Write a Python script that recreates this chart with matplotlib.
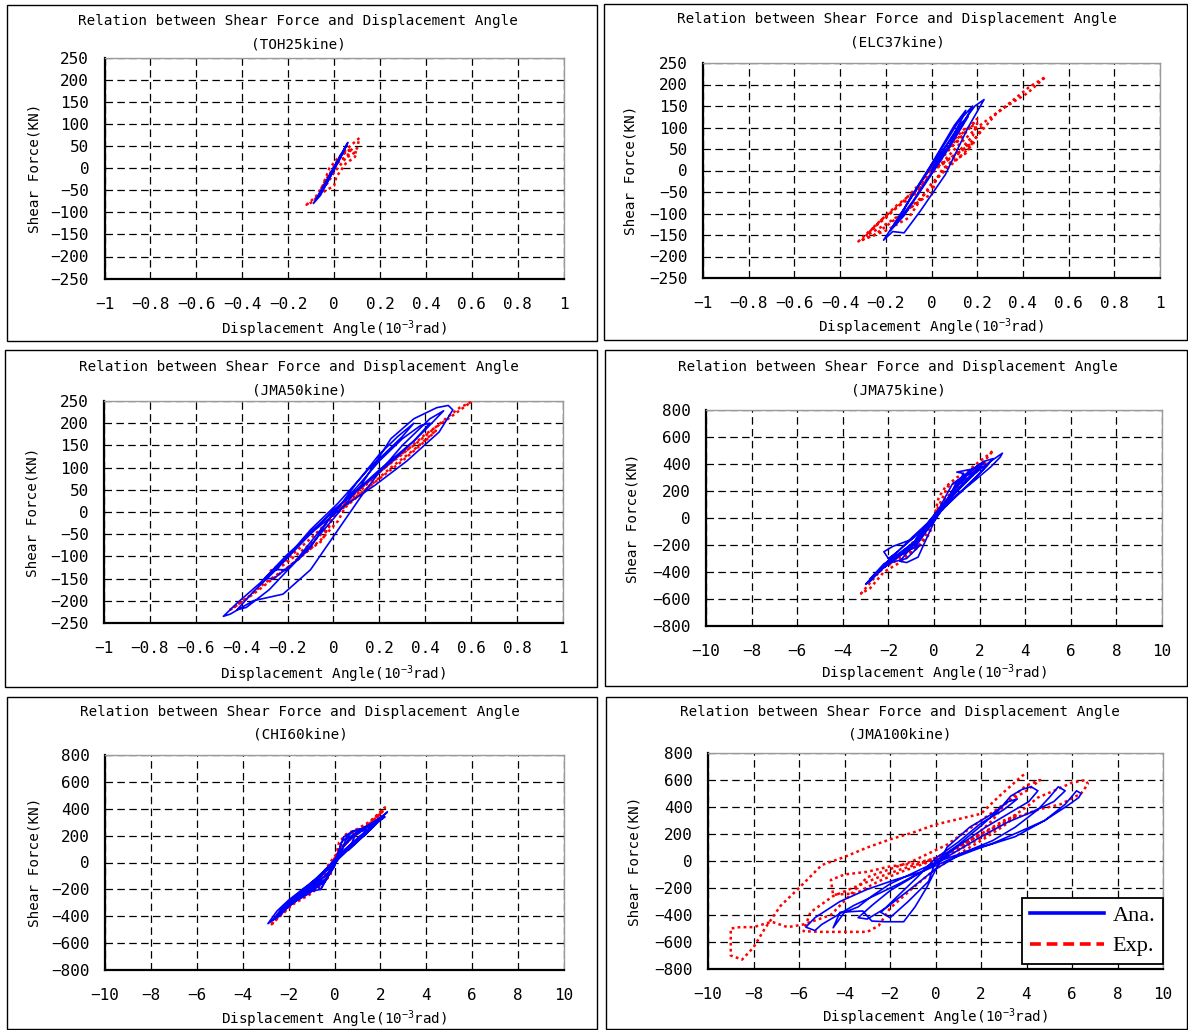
import matplotlib
matplotlib.use("Agg")
import matplotlib.pyplot as plt
from matplotlib.lines import Line2D
from matplotlib.patches import Rectangle
from matplotlib.ticker import FixedLocator, FuncFormatter
import numpy as np

plt.rcParams['font.family'] = ['DejaVu Sans Mono', 'DejaVu Sans']
plt.rcParams['axes.unicode_minus'] = True

# ---------------- data (displacement angle in 1e-3 rad, shear force in kN) ----------------
toh25_ana_x = [0, 0.02, -0.03, 0.04, -0.05, 0.05, -0.07, 0.06, -0.09, -0.06, 0.03, 0.055, -0.02, 0.01, -0.04, 0.03, 0]
toh25_ana_y = [0, 18, -32, 38, -50, 48, -65, 58, -80, -62, 25, 52, -18, 12, -40, 30, 0]
toh25_exp_x = [0, 0.03, 0.08, 0.1, 0.11, 0.07, 0.02, -0.02, -0.05, -0.08, -0.12, -0.1, -0.05, 0.0,
               0.01, 0.05, 0.09, 0.1, 0.06, 0.02, -0.01, -0.04, -0.06, -0.03, 0.0, 0.04, 0.08, 0.03, 0]
toh25_exp_y = [0, 20, 30, 45, 68, 50, 25, 0, -40, -65, -83, -78, -55, -40,
               -20, 10, 25, 35, 40, 22, -5, -30, -50, -35, -10, 15, 45, 30, 0]

elc37_ana_x = [0, 0.08, 0.15, 0.1, 0.0, -0.1, -0.15, -0.08, 0.05, 0.14, 0.18, 0.12, 0.02, -0.12, -0.21,
               -0.17, -0.12, -0.05, 0.06, 0.16, 0.23, 0.19, 0.1, 0.0, -0.08, -0.14, -0.18, -0.12, -0.02,
               0.08, 0.16, 0.12, 0.05, 0]
elc37_ana_y = [0, 60, 140, 105, 15, -70, -120, -70, 35, 110, 150, 115, 30, -90, -162,
               -142, -145, -95, -10, 100, 165, 150, 85, 10, -55, -105, -140, -105, -25,
               55, 125, 105, 45, 0]
elc37_exp_x = [0, 0.05, 0.12, 0.18, 0.2, 0.15, 0.08, 0.0, -0.05, -0.12, -0.2, -0.27, -0.32, -0.25,
               -0.15, -0.05, 0.0, 0.02, 0.1, 0.2, 0.28, 0.36, 0.43, 0.5, 0.42, 0.3, 0.2, 0.12, 0.05,
               -0.02, -0.08, -0.15, -0.22, -0.28, -0.2, -0.1, 0.0, 0.05, 0.15, 0.18, 0.1, 0,
               0.08, 0.15, 0.2, 0.12, 0.03, -0.05, -0.15, -0.25, -0.3, -0.2, -0.1, 0.0, 0.1, 0.18,
               0.22, 0.15, 0.05, 0]
elc37_exp_y = [0, 15, 45, 80, 110, 95, 55, 10, -30, -70, -110, -140, -165, -150,
               -110, -70, -55, -20, 30, 80, 130, 165, 195, 218, 180, 140, 100, 60, 20,
               -20, -60, -85, -115, -150, -125, -90, -40, 5, 40, 65, 35, 0,
               50, 90, 120, 70, 30, -40, -80, -130, -160, -140, -110, -30, 20, 60,
               100, 100, 45, 0]

jma50_ana_x = [0, 0.1, 0.2, 0.3, 0.38, 0.42, 0.35, 0.2, 0.05, -0.1, -0.22, -0.3, -0.26, -0.15, 0.0,
               0.12, 0.25, 0.35, 0.45, 0.5, 0.52, 0.46, 0.32, 0.18, 0.05, -0.08, -0.2, -0.32, -0.42,
               -0.48, -0.45, -0.35, -0.22, -0.1, 0.02, 0.12, 0.2, 0.3, 0.42, 0.48, 0.4, 0.28, 0.12,
               0.0, -0.12, -0.25, -0.35, -0.42, -0.38, -0.28, -0.18, -0.08, 0.03, 0.1, 0.2, 0.28,
               0.35, 0.3, 0.15, 0.02, -0.1, -0.2, -0.25, -0.2, -0.1, 0]
jma50_ana_y = [0, 55, 115, 165, 195, 200, 160, 95, 25, -45, -110, -150, -150, -105, -15,
               60, 165, 210, 235, 240, 230, 180, 115, 60, 15, -40, -95, -160, -205,
               -235, -230, -200, -185, -130, -40, 35, 90, 150, 210, 228, 185, 125, 55,
               5, -60, -130, -180, -220, -215, -175, -120, -55, 15, 65, 130, 170,
               200, 170, 95, 20, -40, -100, -130, -130, -80, 0]
jma50_exp_x = [0, 0.08, 0.18, 0.28, 0.35, 0.42, 0.5, 0.55, 0.6, 0.5, 0.4, 0.3, 0.2, 0.1, 0.02, -0.02,
               -0.05, -0.12, -0.2, -0.3, -0.38, -0.45, -0.42, -0.35, -0.25, -0.15, -0.05, 0.02, 0.05,
               0.15, 0.25, 0.35, 0.45, 0.4, 0.3, 0.2, 0.1, 0.0, -0.1, -0.2, -0.28, -0.22, -0.12,
               -0.02, 0]
jma50_exp_y = [0, 30, 80, 125, 150, 180, 215, 235, 248, 210, 175, 130, 90, 45, 5, -30,
               -65, -90, -125, -160, -195, -220, -210, -185, -145, -105, -60, -20, 10,
               55, 100, 140, 185, 160, 115, 75, 35, -10, -60, -105, -135, -120, -80,
               -35, 0]

jma75_ana_x = [0, 0.5, 1.0, 1.5, 2.0, 2.2, 1.8, 1.0, 0.3, -0.3, -1.0, -1.6, -2.0, -1.6, -0.8, 0.0,
               0.6, 1.2, 1.8, 2.4, 3.0, 2.9, 2.5, 1.8, 1.0, 0.3, -0.4, -1.0, -1.8, -2.5, -3.0, -2.8,
               -2.3, -1.5, -0.8, 0.2, 0.8, 1.3, 1.0, 1.6, 2.0, 1.5, 0.8, 0.0, -0.6, -1.0, -1.5, -1.2,
               -0.7, 0.0, 0.5, 1.0, 1.4, 1.0, 0.4, -0.3, -0.8, -1.3, -2.0, -2.2, -1.8, -1.0, -0.3, 0,
               0.8, 1.5, 2.2, 2.6, 2.0, 1.2, 0.5, 1.0, 1.8, 2.4, 1.6, 0.6, -0.2, -0.9, -1.6, -2.4,
               -2.8, -2.2, -1.4, -0.6, -1.2, -1.9, -2.6, -2.0, -1.2, -0.5, 0]
jma75_ana_y = [0, 120, 240, 330, 400, 410, 340, 200, 80, -40, -150, -250, -300, -290, -190, -20,
               120, 230, 330, 410, 480, 450, 380, 280, 170, 60, -60, -160, -280, -400, -490, -470,
               -380, -280, -210, 30, 180, 330, 340, 360, 380, 300, 170, 20, -110, -220, -320, -330,
               -290, -30, 110, 260, 300, 230, 100, -60, -170, -260, -300, -250, -210, -160, -70, 0,
               250, 340, 420, 440, 330, 200, 90, 270, 350, 400, 260, 100, -40, -180, -280, -390,
               -450, -340, -260, -200, -300, -330, -420, -320, -220, -130, 0]
jma75_exp_x = [0, 0.2, 0.5, 1.0, 1.5, 2.0, 2.4, 2.6, 2.2, 1.5, 0.8, 0.2, -0.3, -0.8, -1.5, -2.0,
               -2.5, -2.9, -3.2, -2.8, -2.2, -1.5, -0.8, -0.2, 0.1, 0.6, 1.2, 1.8, 2.3, 1.8, 1.0,
               0.4, -0.2, -0.8, -1.4, -2.0, -1.4, -0.6, 0]
jma75_exp_y = [0, 150, 230, 300, 350, 420, 470, 500, 420, 330, 200, 60, -80, -160, -280, -330,
               -420, -500, -560, -520, -400, -330, -230, -120, 50, 230, 290, 360, 420, 330, 230,
               120, -40, -200, -260, -350, -290, -200, 0]

chi60_ana_x = [0, 0.5, 1.0, 1.5, 2.0, 2.3, 2.0, 1.4, 0.8, 0.2, -0.3, -0.8, -1.4, -2.0, -2.5, -2.9,
               -2.6, -2.0, -1.4, -0.8, -0.3, 0.0, 0.3, 0.8, 1.3, 1.8, 2.2, 1.9, 1.3, 0.7, 0.2, -0.2,
               -0.7, -1.2, -1.8, -2.3, -2.0, -1.5, -0.9, -0.4, 0.1, 0.4, 0.8, 1.2, 1.6, 1.3, 0.8,
               0.3, -0.2, -0.7, -1.2, -1.6, -1.2, -0.6, 0.0, 0.5, 1.0, 1.4, 1.0, 0.5, 0.0, -0.5,
               -1.0, -0.6, 0,
               0.4, 1.0, 1.6, 2.1, 1.7, 1.1, 0.6, 0.9, 1.5, 1.9, 1.4, 0.7, 0.2, -0.4, -1.0, -1.7,
               -2.4, -2.7, -2.2, -1.5, -0.9, -0.5, -1.1, -1.8, -2.5, -2.0, -1.3, -0.7, 0.0]
chi60_ana_y = [0, 150, 225, 280, 330, 375, 330, 230, 150, 60, -40, -120, -200, -280, -360, -455,
               -420, -320, -240, -170, -110, -30, 150, 230, 260, 300, 340, 300, 200, 120, 40, -60,
               -150, -210, -280, -360, -330, -260, -190, -140, 50, 190, 235, 250, 270, 220, 150,
               70, -30, -120, -190, -250, -220, -200, -20, 170, 230, 240, 180, 100, 20, -70,
               -150, -200, 0,
               120, 230, 290, 350, 270, 170, 90, 200, 270, 320, 220, 110, 30, -100, -170, -270,
               -400, -430, -320, -230, -160, -150, -230, -300, -390, -300, -190, -120, 0]
chi60_exp_x = [0, 0.2, 0.5, 1.0, 1.5, 1.9, 2.2, 1.8, 1.2, 0.6, 0.1, -0.3, -0.8, -1.3, -1.8, -2.3,
               -2.8, -2.5, -1.8, -1.0, -0.4, 0.0, 0.4, 1.0, 1.6, 2.1, 1.6, 0.9, 0.3, -0.2, -0.7,
               -1.2, -0.8, -0.2, 0]
chi60_exp_y = [0, 150, 210, 250, 300, 360, 410, 340, 240, 160, 60, -60, -160, -240, -300, -380,
               -470, -420, -310, -230, -130, -10, 180, 240, 290, 380, 300, 200, 110, 0, -140,
               -220, -200, -100, 0]

jma100_ana_x = [0, 1.0, 2.0, 2.8, 3.3, 3.8, 4.2, 4.5, 4.1, 3.2, 2.2, 1.0, 0.0, -1.0, -2.0, -2.8,
                -3.4, -3.0, -2.2, -1.2, 0.0, 1.2, 2.5, 3.5, 4.5, 5.0, 5.4, 5.7, 5.2, 4.2, 3.2, 2.0,
                0.8, -0.4, -1.5, -2.6, -3.6, -4.4, -5.0, -5.3, -5.7, -5.3, -4.2, -3.0, -1.8, -0.6,
                0.6, 2.0, 3.5, 4.8, 5.7, 6.2, 6.4, 6.3, 5.8, 4.8, 3.6, 2.5, 1.2, 0.0, -1.0, -2.0,
                -2.8, -3.4, -4.0, -4.5, -4.2, -3.2, -2.8, -2.2, -1.4, -0.9, -0.4, 0.5, 1.5, 2.5,
                3.2, 3.6, 3.0, 2.0, 1.0, 0.0, -0.8, -1.6, -2.4, -2.0, -1.2, -0.3, 0]
jma100_ana_y = [0, 120, 260, 380, 480, 530, 550, 520, 440, 350, 250, 110, -20, -120, -220, -330,
                -420, -430, -350, -220, -60, 60, 150, 250, 380, 470, 550, 520, 440, 360, 290, 180,
                60, -60, -160, -250, -330, -410, -470, -515, -490, -420, -300, -210, -140, -80,
                10, 100, 180, 300, 420, 520, 500, 470, 410, 300, 210, 130, 60, -10, -90, -170,
                -260, -340, -380, -495, -380, -370, -445, -450, -450, -340, -200, 100, 250, 350,
                440, 460, 380, 280, 140, 20, -120, -250, -380, -420, -300, -150, 0]
jma100_exp_x = [0, 1.0, 2.0, 2.8, 3.4, 4.0, 4.5, 5.2, 6.0, 6.6, 6.7, 6.4, 5.5, 4.5, 3.5, 2.5, 1.5,
                0.5, -0.5, -1.5, -2.5, -3.5, -4.5, -5.5, -5.8, -5.0, -4.0, -3.0, -2.5, -2.0, -1.0,
                0.0, 1.0, 2.0, 3.0, 3.6, 3.0, 2.0, 1.0, 0.0, -1.0, -2.0, -3.0, -4.0, -4.6, -4.5,
                -3.5, -2.5, -1.5, -0.5, 0.5, 1.5, 2.5, 3.2, 4.0, 4.6, 4.0, 3.0, 2.0, 0.5, -1.0,
                -3.0, -4.6, -5.8, -6.5, -7.2, -8.0, -8.6, -9.0, -9.0, -8.5, -8.0, -7.5, -6.8, -6.0,
                -5.0, -4.0, -3.0, -2.0, -1.0, 0.0, 1.0, 2.0, 2.8, 3.4, 3.8, 4.0]
jma100_exp_y = [0, 80, 170, 260, 330, 400, 470, 520, 580, 600, 570, 500, 420, 380, 320, 240, 150,
                60, -10, -60, -120, -190, -260, -380, -520, -525, -525, -525, -480, -350, -200,
                -60, 50, 150, 260, 340, 300, 200, 100, 20, -20, -40, -80, -100, -140, -250,
                -240, -150, -80, -20, 30, 150, 300, 450, 560, 600, 520, 420, 300, 120, 0,
                -120, -400, -470, -490, -450, -490, -490, -500, -700, -730, -640, -500, -330, -200,
                -30, 30, 100, 160, 210, 270, 310, 350, 480, 570, 630, 650]

case_names = ["TOH25kine", "ELC37kine", "JMA50kine", "JMA75kine", "CHI60kine", "JMA100kine"]
legend_labels = ["Ana.", "Exp."]

# ---------------- layout (pixels) ----------------
W, H = 1188, 1030
fig = plt.figure(figsize=(W / 100, H / 100), dpi=100)

def fx(px):
    return px / W

def fy(py):
    return 1 - py / H

small_range = dict(xlim=(-1, 1), xticks=np.arange(-1, 1.01, 0.2), ylim=(-250, 250),
                   yticks=np.arange(-250, 251, 50))
large_range = dict(xlim=(-10, 10), xticks=np.arange(-10, 10.1, 2), ylim=(-800, 800),
                   yticks=np.arange(-800, 801, 200))

panels = [
    dict(name=case_names[0], ana=(toh25_ana_x, toh25_ana_y), exp=(toh25_exp_x, toh25_exp_y),
         box=(7, 5, 597, 341), ax=(104.5, 57.6, 563.7, 278.6), tx=298, ty=(21, 44), xl=329, yl=35,
         rng=small_range),
    dict(name=case_names[1], ana=(elc37_ana_x, elc37_ana_y), exp=(elc37_exp_x, elc37_exp_y),
         box=(604, 4, 1187, 340), ax=(703, 63, 1160, 278), tx=897, ty=(19, 42), xl=327, yl=631,
         rng=small_range),
    dict(name=case_names[2], ana=(jma50_ana_x, jma50_ana_y), exp=(jma50_exp_x, jma50_exp_y),
         box=(5, 350, 597, 687), ax=(104, 401, 563, 623), tx=299, ty=(367, 390), xl=674, yl=33,
         rng=small_range),
    dict(name=case_names[3], ana=(jma75_ana_x, jma75_ana_y), exp=(jma75_exp_x, jma75_exp_y),
         box=(605, 350, 1187, 686), ax=(706, 410, 1162, 626), tx=898, ty=(367, 390), xl=673, yl=633,
         rng=large_range),
    dict(name=case_names[4], ana=(chi60_ana_x, chi60_ana_y), exp=(chi60_exp_x, chi60_exp_y),
         box=(7, 697, 597, 1029), ax=(105, 755, 564, 970), tx=300, ty=(712, 735), xl=1019, yl=35,
         rng=large_range),
    dict(name=case_names[5], ana=(jma100_ana_x, jma100_ana_y), exp=(jma100_exp_x, jma100_exp_y),
         box=(606, 697, 1187, 1029), ax=(708, 753, 1163, 969), tx=900, ty=(712, 734), xl=1017, yl=634,
         rng=large_range),
]

def tick_fmt(v, pos):
    v = round(v, 6)
    if abs(v) < 1e-9:
        return "0"
    return ("%g" % v).replace("-", "\u2212")

BLUE = "#0000ff"
RED = "#ff0000"
LABEL_SIZE = 10.3
axes_list = []
for p in panels:
    bx0, by0, bx1, by1 = p["box"]
    fig.patches.append(Rectangle((fx(bx0), fy(by1)), fx(bx1) - fx(bx0), fy(by0) - fy(by1),
                                 transform=fig.transFigure, fill=False, edgecolor="black",
                                 linewidth=1.0, zorder=0))
    x0, y0, x1, y1 = p["ax"]
    ax = fig.add_axes([fx(x0), fy(y1), fx(x1) - fx(x0), fy(y0) - fy(y1)])
    axes_list.append(ax)
    r = p["rng"]
    ax.set_xlim(*r["xlim"])
    ax.set_ylim(*r["ylim"])
    ax.xaxis.set_major_locator(FixedLocator(r["xticks"]))
    ax.yaxis.set_major_locator(FixedLocator(r["yticks"]))
    ax.xaxis.set_major_formatter(FuncFormatter(tick_fmt))
    ax.yaxis.set_major_formatter(FuncFormatter(tick_fmt))
    ax.tick_params(axis="both", length=0, labelsize=11.5, colors="black")
    ax.tick_params(axis="x", pad=13)
    ax.tick_params(axis="y", pad=11)
    ax.grid(True, color="black", linestyle=(0, (6, 3.5)), linewidth=0.9)
    ax.set_axisbelow(True)
    for side in ("left", "bottom"):
        ax.spines[side].set_linewidth(1.6)
        ax.spines[side].set_color("black")
    for side in ("top", "right"):
        ax.spines[side].set_linewidth(1.0)
        ax.spines[side].set_color("#9a9a9a")

    ex, ey = p["exp"]
    axx, ayy = p["ana"]
    ax.plot(ex, ey, color=RED, linewidth=1.8, linestyle=(0, (1.1, 1.3)), zorder=3)
    ax.plot(axx, ayy, color=BLUE, linewidth=1.2, zorder=4)

    fig.text(fx(p["tx"]), fy(p["ty"][0]), "Relation between Shear Force and Displacement Angle",
             ha="center", va="center", fontsize=LABEL_SIZE)
    fig.text(fx(p["tx"]), fy(p["ty"][1]), "(" + p["name"] + ")", ha="center", va="center",
             fontsize=LABEL_SIZE)
    fig.text(fx((x0 + x1) / 2), fy(p["xl"]), "Displacement Angle(10$^{\\mathregular{-3}}$rad)",
             ha="center", va="center", fontsize=LABEL_SIZE)
    fig.text(fx(p["yl"]), fy((y0 + y1) / 2), "Shear Force(KN)", ha="center", va="center",
             rotation=90, fontsize=LABEL_SIZE)

handles = [Line2D([], [], color=BLUE, linewidth=2.6),
           Line2D([], [], color=RED, linewidth=2.6, linestyle=(0, (3, 1.6)))]
leg = axes_list[5].legend(handles, legend_labels, loc="lower right",
                          bbox_to_anchor=(1.0, 0.022), borderaxespad=0.0,
                          frameon=True, fancybox=False,
                          edgecolor="black", framealpha=1, handlelength=3.3,
                          labelspacing=0.45, borderpad=0.35, handletextpad=0.4,
                          prop=dict(family="Liberation Serif", size=16))
leg.get_frame().set_linewidth(1.3)

fig.savefig("out.png", dpi=100)
